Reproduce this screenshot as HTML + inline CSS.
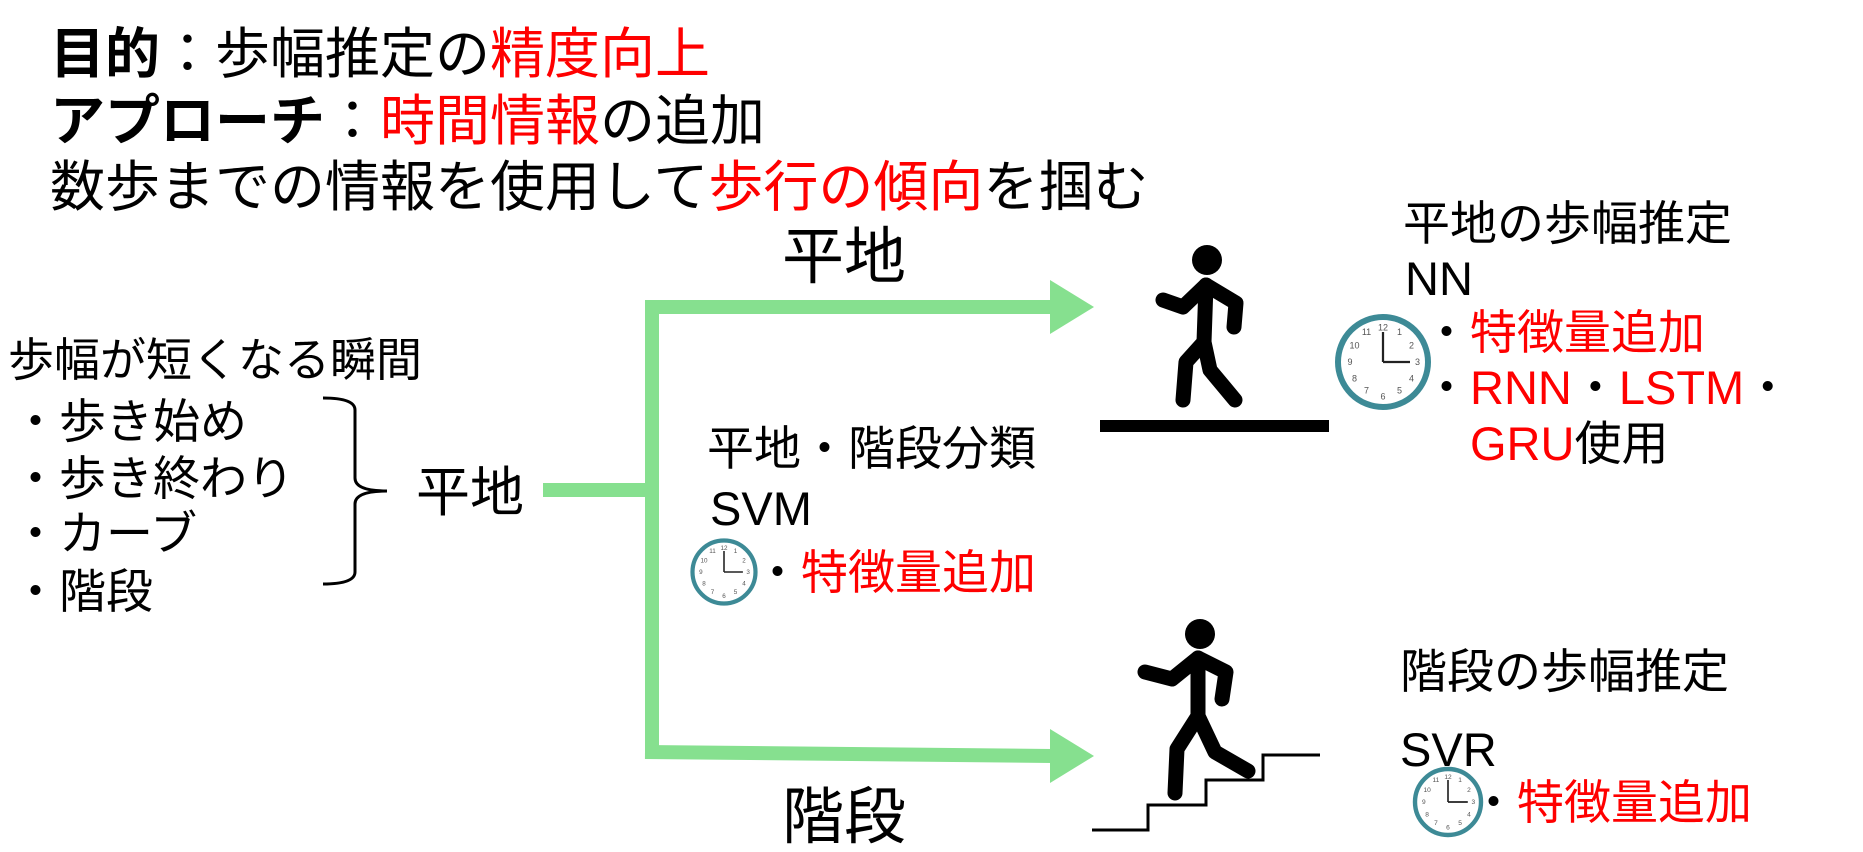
<!DOCTYPE html>
<html><head><meta charset="utf-8">
<style>
html,body{margin:0;padding:0;background:#fff;}
body{width:1863px;height:849px;position:relative;overflow:hidden;font-family:"Liberation Sans","Noto Sans CJK JP",sans-serif;color:#000;}
.t{position:absolute;white-space:nowrap;line-height:1;}
.r{color:#f00;}
b{font-weight:bold;}
</style></head><body>
<div class="t" style="left:50px;top:27px;font-size:55px;"><b>目的</b>：歩幅推定の<span class="r">精度向上</span></div>
<div class="t" style="left:50px;top:94px;font-size:55px;"><b>アプローチ</b>：<span class="r">時間情報</span>の追加</div>
<div class="t" style="left:50px;top:160px;font-size:55px;">数歩までの情報を使用して<span class="r">歩行の傾向</span>を掴む</div>

<div class="t" style="left:782px;top:227px;font-size:62px;">平地</div>
<div class="t" style="left:782px;top:787px;font-size:62px;">階段</div>

<div class="t" style="left:8px;top:337px;font-size:46px;">歩幅が短くなる瞬間</div>
<div class="t" style="left:12px;top:398px;font-size:47px;">・歩き始め</div>
<div class="t" style="left:12px;top:455px;font-size:47px;">・歩き終わり</div>
<div class="t" style="left:12px;top:510px;font-size:47px;">・カーブ</div>
<div class="t" style="left:12px;top:568px;font-size:47px;">・階段</div>
<div class="t" style="left:416px;top:466px;font-size:54px;">平地</div>

<div class="t" style="left:707px;top:425px;font-size:47px;">平地・階段分類</div>
<div class="t" style="left:710px;top:485px;font-size:47px;">SVM</div>
<div class="t" style="left:754px;top:549px;font-size:47px;">・<span class="r">特徴量追加</span></div>

<div class="t" style="left:1403px;top:200px;font-size:47px;">平地の歩幅推定</div>
<div class="t" style="left:1405px;top:255px;font-size:47px;">NN</div>
<div class="t" style="left:1423px;top:309px;font-size:47px;">・<span class="r">特徴量追加</span></div>
<div class="t" style="left:1423px;top:364px;font-size:47px;">・<span class="r">RNN</span>・<span class="r">LSTM</span>・</div>
<div class="t" style="left:1470px;top:420px;font-size:47px;"><span class="r">GRU</span>使用</div>

<div class="t" style="left:1400px;top:648px;font-size:47px;">階段の歩幅推定</div>
<div class="t" style="left:1400px;top:726px;font-size:47px;">SVR</div>
<div class="t" style="left:1470px;top:779px;font-size:47px;">・<span class="r">特徴量追加</span></div>

<svg width="1863" height="849" style="position:absolute;left:0;top:0;" xmlns="http://www.w3.org/2000/svg">
<g fill="none" stroke="#86e08f" stroke-width="14">
<line x1="543" y1="490" x2="652" y2="490"/>
<line x1="652" y1="300" x2="652" y2="759"/>
<line x1="645" y1="307" x2="1052" y2="307"/>
<line x1="645" y1="752" x2="1052" y2="756"/>
</g>
<polygon points="1050,280 1094,307 1050,334" fill="#86e08f"/>
<polygon points="1050,729 1094,756 1050,783" fill="#86e08f"/>

<path d="M323,398 Q355,398 355,410 L355,478 Q355,491 387,491 Q355,491 355,504 L355,572 Q355,584 323,584" fill="none" stroke="#000" stroke-width="3"/>

<!-- person 1 -->
<circle cx="1207" cy="260" r="15" fill="#000"/>
<g fill="none" stroke="#000" stroke-width="15" stroke-linecap="round" stroke-linejoin="round">
<path d="M1163,300 L1183,307 L1206,285 L1236,303 L1234,327"/>
<path d="M1206,285 L1204,342"/>
<path d="M1204,342 L1186,362 L1183,400"/>
<path d="M1204,342 L1210,370 L1235,400"/>
</g>
<rect x="1100" y="420" width="229" height="12" fill="#000"/>

<!-- person 2 -->
<circle cx="1200" cy="634" r="15" fill="#000"/>
<g fill="none" stroke="#000" stroke-width="15" stroke-linecap="round" stroke-linejoin="round">
<path d="M1145,672 L1172,679 L1198,658 L1226,672 L1222,699"/>
<path d="M1198,658 L1198,716"/>
<path d="M1198,716 L1177,749 L1175,793"/>
<path d="M1198,716 L1215,752 L1248,771"/>
</g>
<path d="M1092,830 L1148,830 L1148,805 L1206,805 L1206,780 L1263,780 L1263,755 L1320,755" fill="none" stroke="#000" stroke-width="3"/>

<!-- clocks -->
<g transform="translate(1383,362) scale(1.5)">
<circle r="30" fill="#fff" stroke="#3d8a96" stroke-width="4"/>
<line x1="0" y1="0" x2="0" y2="-20" stroke="#222" stroke-width="1.5"/><line x1="0" y1="0" x2="18" y2="0" stroke="#222" stroke-width="1.5"/>
<g font-size="6" fill="#555" text-anchor="middle" font-family="Liberation Sans,sans-serif"><text x="0" y="-21">12</text><text x="11" y="-18">1</text><text x="19" y="-9">2</text><text x="23" y="2">3</text><text x="19" y="13">4</text><text x="11" y="21">5</text><text x="0" y="25">6</text><text x="-11" y="21">7</text><text x="-19" y="13">8</text><text x="-22" y="2">9</text><text x="-19" y="-9">10</text><text x="-11" y="-18">11</text></g>
</g>
<g transform="translate(724,572) scale(1.05)">
<circle r="30" fill="#fff" stroke="#3d8a96" stroke-width="4"/>
<line x1="0" y1="0" x2="0" y2="-20" stroke="#222" stroke-width="1.5"/><line x1="0" y1="0" x2="18" y2="0" stroke="#222" stroke-width="1.5"/>
<g font-size="6" fill="#555" text-anchor="middle" font-family="Liberation Sans,sans-serif"><text x="0" y="-21">12</text><text x="11" y="-18">1</text><text x="19" y="-9">2</text><text x="23" y="2">3</text><text x="19" y="13">4</text><text x="11" y="21">5</text><text x="0" y="25">6</text><text x="-11" y="21">7</text><text x="-19" y="13">8</text><text x="-22" y="2">9</text><text x="-19" y="-9">10</text><text x="-11" y="-18">11</text></g>
</g>
<g transform="translate(1448,802) scale(1.1)">
<circle r="30" fill="#fff" stroke="#3d8a96" stroke-width="4"/>
<line x1="0" y1="0" x2="0" y2="-20" stroke="#222" stroke-width="1.5"/><line x1="0" y1="0" x2="18" y2="0" stroke="#222" stroke-width="1.5"/>
<g font-size="6" fill="#555" text-anchor="middle" font-family="Liberation Sans,sans-serif"><text x="0" y="-21">12</text><text x="11" y="-18">1</text><text x="19" y="-9">2</text><text x="23" y="2">3</text><text x="19" y="13">4</text><text x="11" y="21">5</text><text x="0" y="25">6</text><text x="-11" y="21">7</text><text x="-19" y="13">8</text><text x="-22" y="2">9</text><text x="-19" y="-9">10</text><text x="-11" y="-18">11</text></g>
</g>
</svg>
</body></html>
